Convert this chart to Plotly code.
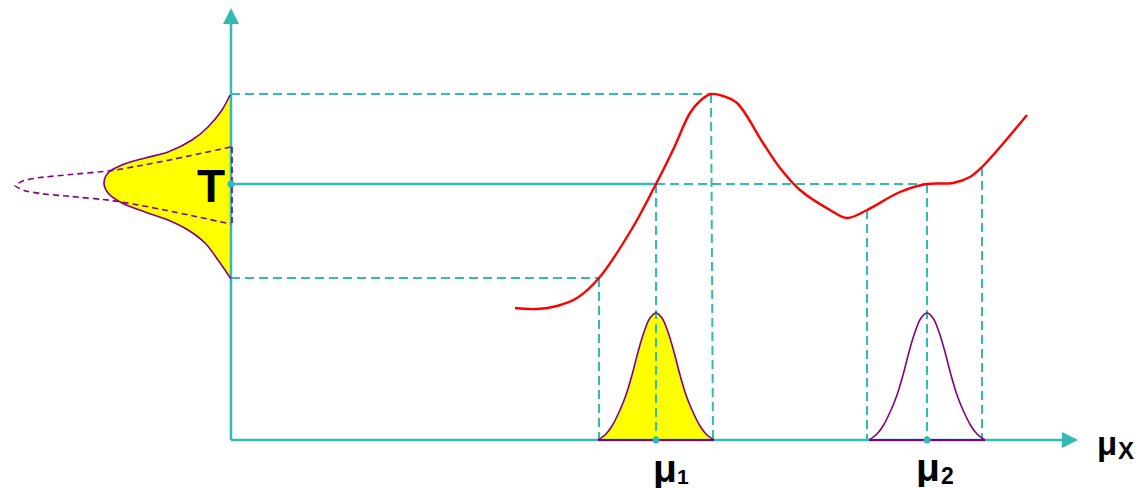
import plotly.graph_objects as go

# ---------------- data (origin at the crossing of the two axes) ----------------
# red response curve
curve_x = [284, 306, 326, 346, 368, 402, 425, 442, 459, 470, 480, 492, 506, 532, 549, 569, 599, 616, 636, 669, 696, 722, 739, 751, 796]
curve_y = [132, 131, 134, 142, 162, 213, 256, 290, 327, 340, 346, 344, 337, 297, 272, 250, 230, 222, 230, 248, 256, 257, 263, 273, 325]

# key levels / positions
T_level = 256
top_level = 346
low_level = 162
mu1 = 425
mu2 = 696
mu1_lo, mu1_peak_x = 368, 480
mu2_lo, mu2_hi = 636, 751
mu2_lo_y, mu2_hi_y = 230, 273

# bottom bell profile (offset from centre, height)
bell_dx = [-58, -50, -44, -36, -30, -24, -18, -12, -6, 0, 6, 12, 18, 24, 30, 36, 44, 50, 58]
bell_h = [0, 6, 14, 30, 45, 65, 88, 108, 122, 127, 122, 108, 88, 65, 45, 30, 14, 6, 0]

# left sideways distribution (offset from T, width to the left)
left_d = [89, 74, 57, 44, 32, 26, 19, 11, 1, -9, -19, -28, -36, -46, -59, -76, -89, -95]
left_w = [1, 9, 23, 39, 63, 86, 109, 123, 127, 123, 109, 86, 63, 43, 26, 13, 4, 0]

# left dashed (narrow, tall) distribution
dash_centre = 254.5
dash_d = [38.5, 30, 25, 20, 15, 11, 8, 5, 0, -5, -8, -11, -15, -20, -25, -30, -38.5]
dash_w = [0, 40, 64, 90, 119, 160, 191, 207, 216, 207, 191, 160, 119, 90, 64, 40, 0]

# ---------------- styles ----------------
TEAL = "#33BBB3"
PURPLE = "#800080"
YELLOW = "#FFFF00"
RED = "#FF0000"
DASH = "9px,5px"
FONT = "Liberation Sans, Arial, sans-serif"

fig = go.Figure()

def add(x, y, **kw):
    fig.add_trace(go.Scatter(x=x, y=y, hoverinfo="skip", **kw))

SPL = dict(shape="spline", smoothing=1.0)

# yellow fills
add([-w for w in left_w], [T_level + d for d in left_d], mode="lines", fill="toself",
    fillcolor=YELLOW, line=dict(width=0, **SPL))
add([mu1 + d for d in bell_dx], bell_h, mode="lines", fill="toself",
    fillcolor=YELLOW, line=dict(width=0, **SPL))

# axes lines
add([0, 0], [0, 420], mode="lines", line=dict(color=TEAL, width=2.5))
add([0, 835], [0, 0], mode="lines", line=dict(color=TEAL, width=2.5))

# dashed guide lines
gx, gy = [], []
def seg(x0, y0, x1, y1):
    gx.extend([x0, x1, None]); gy.extend([y0, y1, None])
seg(0, top_level, mu1_peak_x, top_level)
seg(0, low_level, mu1_lo, low_level)
seg(mu1, T_level, mu2, T_level)
seg(mu1_lo, low_level, mu1_lo, 0)
seg(mu1, T_level, mu1, 0)
seg(mu1_peak_x, top_level, mu1_peak_x + 2, 0)
seg(mu2_lo, mu2_lo_y, mu2_lo, 0)
seg(mu2, T_level, mu2, 0)
seg(mu2_hi, mu2_hi_y, mu2_hi, 0)
add(gx, gy, mode="lines", line=dict(color=TEAL, width=2, dash=DASH))

# solid T line
add([0, mu1], [T_level, T_level], mode="lines", line=dict(color=TEAL, width=2.5))

# purple outlines
add([-w for w in left_w], [T_level + d for d in left_d], mode="lines",
    line=dict(color=PURPLE, width=1.6, **SPL))
for c in (mu1, mu2):
    add([c + d for d in bell_dx], bell_h, mode="lines", line=dict(color=PURPLE, width=1.6, **SPL))
    add([c + bell_dx[0], c + bell_dx[-1]], [0, 0], mode="lines", line=dict(color=PURPLE, width=1.8))
add([-w for w in dash_w], [dash_centre + d for d in dash_d],
    mode="lines", line=dict(color=PURPLE, width=1.6, dash="6px,4px", shape="spline", smoothing=0.5))
add([1, 1], [dash_centre + dash_d[0], dash_centre + dash_d[-1]],
    mode="lines", line=dict(color=PURPLE, width=1.6, dash="6px,4px"))

# red curve
add(curve_x, curve_y, mode="lines", line=dict(color=RED, width=2.4, shape="spline", smoothing=1.0))

# dots
add([0, mu1, mu2], [T_level, 0, 0], mode="markers", marker=dict(color=TEAL, size=7))

# arrowheads
fig.add_annotation(x=0, y=432, ax=0, ay=405, axref="x", ayref="y", xref="x", yref="y",
                   text="", showarrow=True, arrowhead=2, arrowsize=1.6, arrowwidth=2,
                   arrowcolor=TEAL)
fig.add_annotation(x=847, y=0, ax=820, ay=0, axref="x", ayref="y", xref="x", yref="y",
                   text="", showarrow=True, arrowhead=2, arrowsize=1.6, arrowwidth=2,
                   arrowcolor=TEAL)

def label(x, y, text, size, h=None):
    fig.add_annotation(x=x, y=y, xref="x", yref="y", text=text, showarrow=False,
                       xanchor="center", yanchor="middle", height=h,
                       font=dict(family=FONT, size=size, color="black"))

label(-20.5, 254, "<b>T</b>", 46)
label(434, -27.5, "<b>μ</b>", 39, 40)
label(451.5, -36, "<b>1</b>", 21, 20)
label(697, -27, "<b>μ</b>", 39, 40)
label(716, -36, "<b>2</b>", 23, 20)
label(876, -3.5, "<b>μ</b>", 33)
label(895, -10.5, "<b>X</b>", 24)

fig.update_layout(
    width=1142, height=488, margin=dict(l=0, r=0, t=0, b=0),
    plot_bgcolor="white", paper_bgcolor="white", showlegend=False,
    xaxis=dict(range=[-231, 911], visible=False, fixedrange=True),
    yaxis=dict(range=[-48, 440], visible=False, fixedrange=True),
)

fig.write_html(
    "out.html",
    config={"displayModeBar": False},
    post_script="document.body.style.margin='0';document.body.style.overflow='hidden';",
)
